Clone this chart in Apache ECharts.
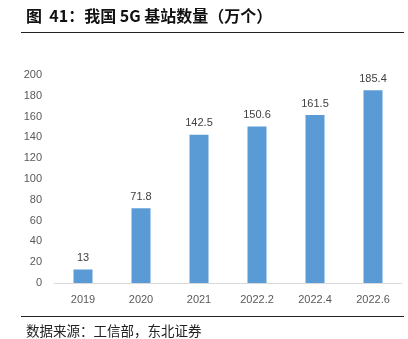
<!DOCTYPE html>
<html><head><meta charset="utf-8">
<script src="https://cdn.jsdelivr.net/npm/echarts@6/dist/echarts.min.js"></script>
<style>html,body{margin:0;padding:0;background:#fff}#c{width:408px;height:339px}</style>
</head><body><div id="c"></div>
<script>
var categories = ['2019','2020','2021','2022.2','2022.4','2022.6'];
var values = [13, 71.8, 142.5, 150.6, 161.5, 185.4];
var yTicks = [0,20,40,60,80,100,120,140,160,180,200];
var titleText = '图  41：我国 5G 基站数量（万个）';
var sourceText = '数据来源：工信部，东北证券';

var chart = echarts.init(document.getElementById('c'));
chart.setOption({
  animation: false,
  backgroundColor: '#fff',
  title: [
    {text: titleText, left: 21, top: 3, textStyle: {fontFamily: 'Noto Sans CJK SC', fontWeight: 'bold', fontSize: 16, color: '#111'}},
    {text: sourceText, left: 21, top: 319, textStyle: {fontFamily: 'Noto Sans CJK SC', fontWeight: 'normal', fontSize: 13.5, color: '#222'}}
  ],
  graphic: [
    {type: 'line', shape: {x1: 21, y1: 32.5, x2: 404, y2: 32.5}, style: {stroke: '#222', lineWidth: 1}},
    {type: 'line', shape: {x1: 21, y1: 316.5, x2: 404, y2: 316.5}, style: {stroke: '#222', lineWidth: 1}}
  ],
  grid: {left: 54, right: 6, top: 75, bottom: 56},
  xAxis: {
    type: 'category', data: categories,
    axisLine: {lineStyle: {color: '#d9d9d9'}},
    axisTick: {show: false},
    axisLabel: {color: '#595959', fontSize: 11, fontFamily: 'Liberation Sans', margin: 11}
  },
  yAxis: {
    type: 'value', min: yTicks[0], max: yTicks[yTicks.length-1], interval: 20,
    axisLine: {show: false}, axisTick: {show: false}, splitLine: {show: false},
    axisLabel: {color: '#595959', fontSize: 11, fontFamily: 'Liberation Sans', margin: 12}
  },
  series: [{
    type: 'bar', data: values, barWidth: 19,
    itemStyle: {color: '#5B9BD5'},
    label: {show: true, position: 'top', color: '#404040', fontSize: 11, fontFamily: 'Liberation Sans', distance: 6}
  }]
});
</script></body></html>
